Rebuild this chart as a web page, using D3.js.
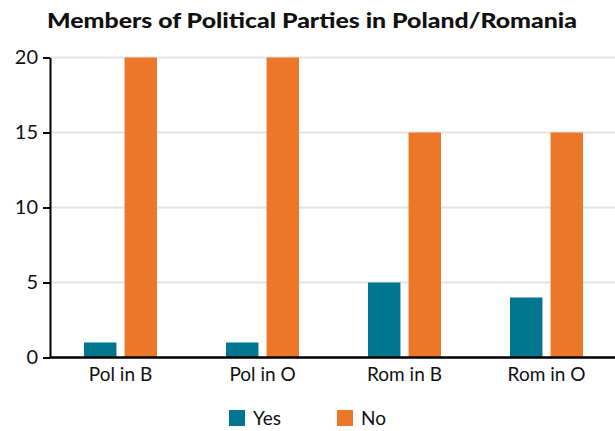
<!DOCTYPE html>
<html>
<head>
<meta charset="utf-8">
<script src="https://cdn.jsdelivr.net/npm/d3@7"></script>
<style>
  body { margin: 0; background: #fff; }
  svg text { font-family: Lato, "Open Sans", sans-serif; fill: #111; }
</style>
</head>
<body>
<svg id="chart" width="615" height="431"></svg>
<script>
const categories = ["Pol in B", "Pol in O", "Rom in B", "Rom in O"];
const seriesNames = ["Yes", "No"];
const yesValues = [1, 1, 5, 4];
const noValues = [20, 20, 15, 15];
const yTicks = [0, 5, 10, 15, 20];
const colors = ["#00758f", "#ed7729"];

const svg = d3.select("#chart");
const width = 615, height = 431;
const margin = { top: 57.5, left: 50, bottom: 73.5 };

const x0 = d3.scaleBand()
  .domain(categories)
  .range([49.5, 617.5])
  .paddingInner(0.486)
  .paddingOuter(0.243);

const x1 = d3.scaleBand()
  .domain(seriesNames)
  .range([0, x0.bandwidth()])
  .paddingInner(0.2);

const y = d3.scaleLinear()
  .domain([0, 20])
  .range([height - margin.bottom, margin.top]);

// gridlines
svg.append("g")
  .selectAll("line")
  .data(yTicks.filter(d => d > 0))
  .join("line")
  .attr("x1", margin.left)
  .attr("x2", width)
  .attr("y1", d => y(d))
  .attr("y2", d => y(d))
  .attr("stroke", "#e4e4e4")
  .attr("stroke-width", 2);

// title
svg.append("text")
  .attr("x", 47)
  .attr("y", 28)
  .attr("font-size", 20)
  .attr("font-weight", 900)
  .attr("textLength", 530)
  .attr("lengthAdjust", "spacingAndGlyphs")
  .text("Members of Political Parties in Poland/Romania");

// bars
const rows = categories.map((c, i) => ({ cat: c, vals: [yesValues[i], noValues[i]] }));
svg.append("g")
  .selectAll("g")
  .data(rows)
  .join("g")
  .attr("transform", d => `translate(${x0(d.cat)},0)`)
  .selectAll("rect")
  .data(d => d.vals.map((v, k) => ({ key: seriesNames[k], value: v, k })))
  .join("rect")
  .attr("x", d => x1(d.key))
  .attr("width", x1.bandwidth())
  .attr("y", d => y(d.value))
  .attr("height", d => y(0) - y(d.value))
  .attr("fill", d => colors[d.k]);

// y axis
const yAxis = svg.append("g")
  .attr("transform", `translate(${margin.left},0)`)
  .call(d3.axisLeft(y).tickValues(yTicks).tickSize(7).tickSizeOuter(0).tickPadding(5));
yAxis.select(".domain").attr("stroke", "#000").attr("stroke-width", 2);
yAxis.selectAll(".tick line").attr("stroke", "#000").attr("stroke-width", 2);
yAxis.selectAll(".tick text").attr("font-size", 20).attr("fill", "#111");

// x axis
const xAxis = svg.append("g")
  .attr("transform", `translate(0,${y(0)})`)
  .call(d3.axisBottom(x0).tickSize(0).tickPadding(10));
xAxis.select(".domain").attr("d", `M${margin.left},0H${width}`).attr("stroke", "#000").attr("stroke-width", 2.5);
xAxis.selectAll(".tick text").attr("font-size", 19).attr("fill", "#111");

// legend
const legendX = [229, 337];
const legend = svg.append("g")
  .selectAll("g")
  .data(seriesNames)
  .join("g")
  .attr("transform", (d, i) => `translate(${legendX[i]},410)`);
legend.append("rect")
  .attr("width", 16)
  .attr("height", 16)
  .attr("fill", (d, i) => colors[i]);
legend.append("text")
  .attr("x", 24)
  .attr("y", 15)
  .attr("font-size", 19)
  .text(d => d);
</script>
</body>
</html>
